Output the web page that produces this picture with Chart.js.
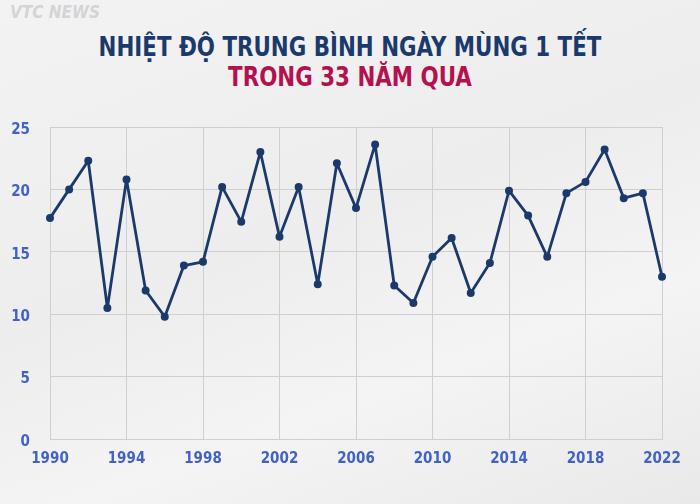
<!DOCTYPE html>
<html>
<head>
<meta charset="utf-8">
<script src="https://cdn.jsdelivr.net/npm/chart.js@4.4.1/dist/chart.umd.min.js"></script>
<style>
  html, body { margin: 0; padding: 0; }
  body {
    width: 700px; height: 504px; overflow: hidden; position: relative;
    background: linear-gradient(160deg, #f3f3f4 0%, #ededee 45%, #f4f4f5 70%, #e9e9ea 100%);
    font-family: 'Liberation Sans Narrow', 'DejaVu Sans Condensed', sans-serif;
  }
  #logo {
    position: absolute; left: 10px; top: 2px;
    font: italic bold 17px 'Liberation Sans Narrow', 'DejaVu Sans Condensed', sans-serif;
    color: #d4d4d6;
  }
  .title {
    position: absolute; left: 0; width: 700px; text-align: center;
    font-weight: bold; font-size: 27px; line-height: 30px;
    transform: scaleX(0.88); transform-origin: 50% 50%;
  }
  #t1 { top: 32px; color: #1b3a6b; }
  #t2 { top: 62px; color: #b4124e; }
  #wrap { position: absolute; left: 0; top: 0; width: 700px; height: 504px; }
</style>
</head>
<body>
<div id="logo">VTC NEWS</div>
<div class="title" id="t1">NHIỆT ĐỘ TRUNG BÌNH NGÀY MÙNG 1 TẾT</div>
<div class="title" id="t2">TRONG 33 NĂM QUA</div>
<div id="wrap"><canvas id="chart"></canvas></div>
<script>
document.addEventListener('DOMContentLoaded', () => {
    initChart();
});

const years = Array.from({length: 33}, (_, i) => 1990 + i);
const temps = [
    17.7, 20.0, 22.3, 10.5, 20.8, 11.9, 9.8, 13.9, 14.2, 20.2,
    17.4, 23.0, 16.2, 20.2, 12.4, 22.1, 18.5, 23.6, 12.3, 10.9,
    14.6, 16.1, 11.7, 14.1, 19.9, 17.9, 14.6, 19.7, 20.6, 23.2,
    19.3, 19.7, 13.0
];
const yTicks = [0, 5, 10, 15, 20, 25];
const xTicks = [1990, 1994, 1998, 2002, 2006, 2010, 2014, 2018, 2022];

let chart;

function initChart() {
    const ctx = document.getElementById('chart').getContext('2d');
    const tickFont = { family: "'Liberation Sans Narrow', 'DejaVu Sans Condensed', sans-serif", size: 15, weight: 'bold' };

    chart = new Chart(ctx, {
        type: 'line',
        data: {
            datasets: [{
                data: years.map((y, i) => ({ x: y, y: temps[i] })),
                borderColor: '#1b3a6b',
                backgroundColor: '#1b3a6b',
                borderWidth: 2.8,
                borderJoinStyle: 'round',
                pointRadius: 2.6,
                pointHoverRadius: 2.6,
                tension: 0,
                clip: false
            }]
        },
        options: {
            responsive: true,
            maintainAspectRatio: false,
            animation: false,
            layout: { padding: { top: 127, right: 38, left: 0, bottom: 0 } },
            plugins: {
                legend: { display: false },
                tooltip: { enabled: false }
            },
            scales: {
                x: {
                    type: 'linear',
                    min: 1990,
                    max: 2022,
                    afterBuildTicks: (scale) => { scale.ticks = xTicks.map(v => ({ value: v })); },
                    afterFit: (scale) => { scale.height = 65; },
                    grid: { color: '#cfcfd1', drawTicks: false },
                    border: { color: '#cfcfd1' },
                    ticks: {
                        color: '#4262c4',
                        font: tickFont,
                        padding: 11,
                        maxRotation: 0,
                        callback: (v) => String(v)
                    }
                },
                y: {
                    min: 0,
                    max: 25,
                    afterBuildTicks: (scale) => { scale.ticks = yTicks.map(v => ({ value: v })); },
                    afterFit: (scale) => { scale.width = 50; },
                    grid: { color: '#cfcfd1', drawTicks: false },
                    border: { color: '#cfcfd1' },
                    ticks: {
                        color: '#4262c4',
                        font: tickFont,
                        padding: 20,
                        labelOffset: 3
                    }
                }
            }
        },
        plugins: [{
            id: 'frame',
            beforeDatasetsDraw(c) {
                const a = c.chartArea, g = c.ctx;
                g.save();
                g.strokeStyle = '#cfcfd1';
                g.lineWidth = 1;
                g.strokeRect(a.left + 0.5, a.top + 0.5, a.right - a.left, a.bottom - a.top);
                g.restore();
            }
        }]
    });
}
</script>
</body>
</html>
